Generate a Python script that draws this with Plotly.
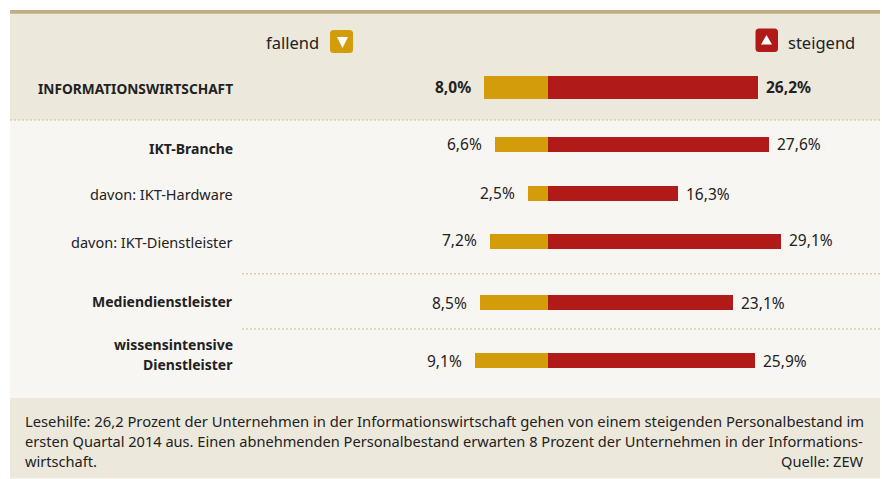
import plotly.graph_objects as go

W, H = 882, 479

# ---- data ----
categories = ["INFORMATIONSWIRTSCHAFT", "IKT-Branche", "davon: IKT-Hardware",
              "davon: IKT-Dienstleister", "Mediendienstleister",
              "wissensintensive<br>Dienstleister"]
fallend = [8.0, 6.6, 2.5, 7.2, 8.5, 9.1]
steigend = [26.2, 27.6, 16.3, 29.1, 23.1, 25.9]
footer_lines = [
    "Lesehilfe: 26,2 Prozent der Unternehmen in der Informationswirtschaft gehen von einem steigenden Personalbestand im",
    "ersten Quartal 2014 aus. Einen abnehmenden Personalbestand erwarten 8 Prozent der Unternehmen in der Informations-",
    "wirtschaft.",
]
source = "Quelle: ZEW"

# ---- layout (pixel geometry of the rows) ----
row_y = [87.5, 144.5, 193.5, 241.5, 302.5, 360.5]
row_h = [23, 15, 15, 15, 15, 15]
label_y = [88, 148.5, 193.5, 242, 301.5, 344]
left_dy = [-0.5, -0.5, -0.5, -1.5, 0, 0]
right_dy = [-0.5, -1, 0, -2, 0, 0]
bold = [True, True, False, False, True, True]
footer_size = [14.75, 14.6, 14.6]

FONT = "Noto Sans"
INK = "#222222"
GOLD = "#d39c0a"
RED = "#b01a18"
BEIGE = "#ece8dc"
LIGHT = "#f8f6f2"
RULE = "#bfae85"
DOT = "#d9d0b0"
PX_PER_UNIT = 8.0
ZERO_PX = 548.0


def fmt(v):
    return f"{v:.1f}%".replace(".", ",")


fig = go.Figure()
fig.add_bar(y=row_y, x=[-v for v in fallend], base=0, width=row_h, orientation="h",
            marker=dict(color=GOLD, line_width=0), name="fallend", showlegend=False)
fig.add_bar(y=row_y, x=steigend, base=0, width=row_h, orientation="h",
            marker=dict(color=RED, line_width=0), name="steigend", showlegend=False)


def px(x):
    return x / W


def rect(x0, y0, x1, y1, color):
    fig.add_shape(type="rect", xref="paper", yref="y", x0=px(x0), x1=px(x1), y0=y0, y1=y1,
                  fillcolor=color, line_width=0, layer="below")


def dotted(x0, x1, y):
    fig.add_shape(type="line", xref="paper", yref="y", x0=px(x0), x1=px(x1), y0=y, y1=y,
                  line=dict(color=DOT, width=1.5, dash="2px 2px"), layer="below")


def path(d, color):
    fig.add_shape(type="path", xref="paper", yref="y", path=d, fillcolor=color, line_width=0)


def rounded(x0, y0, x1, y1, r, color):
    p = px
    d = (f"M {p(x0 + r)} {y0} L {p(x1 - r)} {y0} Q {p(x1)} {y0} {p(x1)} {y0 + r} "
         f"L {p(x1)} {y1 - r} Q {p(x1)} {y1} {p(x1 - r)} {y1} L {p(x0 + r)} {y1} "
         f"Q {p(x0)} {y1} {p(x0)} {y1 - r} L {p(x0)} {y0 + r} Q {p(x0)} {y0} {p(x0 + r)} {y0} Z")
    path(d, color)


rect(10, 10, 880, 398, LIGHT)
rect(10, 13, 880, 120, BEIGE)
rect(10, 398, 880, 478.5, BEIGE)
rect(10, 10, 880, 13.7, RULE)
dotted(10, 880, 120)
dotted(242, 880, 273.7)
dotted(242, 880, 329)

rounded(330, 30, 353, 53, 3.5, GOLD)
path(f"M {px(337)} 37 L {px(348)} 37 L {px(342.5)} 48 Z", "white")
rounded(755.5, 28.5, 778, 52, 3.5, RED)
path(f"M {px(761)} 44.5 L {px(772)} 44.5 L {px(766.5)} 35 Z", "white")


def text(xp, y, s, anchor="right", size=14.0, weight=False):
    fig.add_annotation(xref="paper", yref="y", x=px(xp), y=y, text=f"<b>{s}</b>" if weight else s,
                       showarrow=False, xanchor=anchor, yanchor="middle", align=anchor,
                       borderpad=0, borderwidth=0,
                       font=dict(family=FONT, size=size, color=INK))


for c, y, b in zip(categories, label_y, bold):
    for k, part in enumerate(c.split("<br>")):
        text(232.5, y + 20 * k, part, size=(13.7 if c.isupper() else 14.0) if b else 14.5, weight=b)

for i in range(len(categories)):
    b = i == 0
    fig.add_annotation(xref="x", yref="y", x=-fallend[i], y=row_y[i] + left_dy[i],
                       text=f"<b>{fmt(fallend[i])}</b>" if b else fmt(fallend[i]),
                       showarrow=False, xanchor="right", yanchor="middle", xshift=-13,
                       borderpad=0, borderwidth=0,
                       font=dict(family=FONT, size=15.5, color=INK))
    fig.add_annotation(xref="x", yref="y", x=steigend[i], y=row_y[i] + right_dy[i],
                       text=f"<b>{fmt(steigend[i])}</b>" if b else fmt(steigend[i]),
                       showarrow=False, xanchor="left", yanchor="middle", xshift=8,
                       borderpad=0, borderwidth=0,
                       font=dict(family=FONT, size=15.5, color=INK))

text(318.5, 42, "fallend", anchor="right", size=16.5)
text(788, 42, "steigend", anchor="left", size=16.5)

for line, y, s in zip(footer_lines, [420.5, 440.5, 460.5], footer_size):
    text(25, y, line, anchor="left", size=s)
text(864, 460.5, source, size=14.6)

fig.update_layout(
    width=W, height=H, margin=dict(l=0, r=0, t=0, b=0, pad=0),
    paper_bgcolor="white", plot_bgcolor="rgba(0,0,0,0)",
    barmode="overlay", bargap=0,
    xaxis=dict(range=[(0 - ZERO_PX) / PX_PER_UNIT, (W - ZERO_PX) / PX_PER_UNIT], visible=False, fixedrange=True),
    yaxis=dict(range=[H, 0], visible=False, fixedrange=True),
)
fig.write_html("out.html", config={"displayModeBar": False},
               post_script="document.body.style.margin='0';document.documentElement.style.overflow='hidden';")
